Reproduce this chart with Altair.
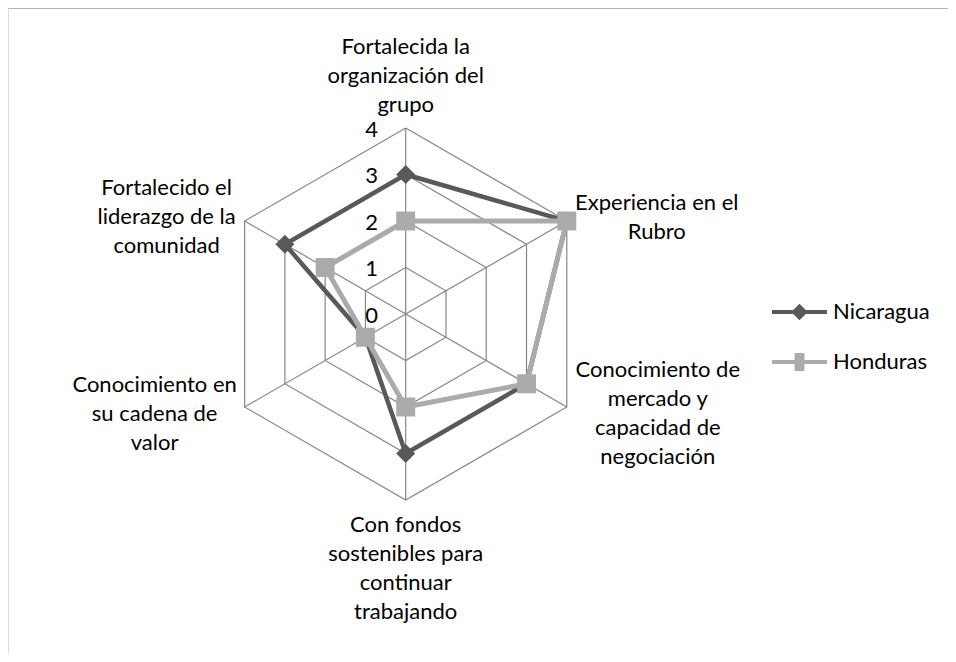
import altair as alt
import numpy as np
import pandas as pd

# ---- data ----
categories = [
    "Fortalecida la organización del grupo",
    "Experiencia en el Rubro",
    "Conocimiento de mercado y capacidad de negociación",
    "Con fondos sostenibles para continuar trabajando",
    "Conocimiento en su cadena de valor",
    "Fortalecido el liderazgo de la comunidad",
]
category_lines = [
    ["Fortalecida la", "organización del", "grupo"],
    ["Experiencia en el", "Rubro"],
    ["Conocimiento de", "mercado y", "capacidad de", "negociación"],
    ["Con fondos", "sostenibles para", "continuar", "trabajando"],
    ["Conocimiento en", "su cadena de", "valor"],
    ["Fortalecido el", "liderazgo de la", "comunidad"],
]
series_names = ["Nicaragua", "Honduras"]
nicaragua = [3, 4, 3, 3, 1, 3]
honduras = [2, 4, 3, 2, 1, 2]
levels = [0, 1, 2, 3, 4]

# ---- styles ----
FONT = "Lato"
FS = 22
GRID = "#868686"
colors = {"Nicaragua": "#595959", "Honduras": "#ababab"}
shapes = {"Nicaragua": "diamond", "Honduras": "square"}
widths = {"Nicaragua": 4.5, "Honduras": 5}

W, H = 940, 646
xs = alt.Scale(domain=[-8.5527, 11.6624], nice=False, zero=False)
ys = alt.Scale(domain=[-7.3118, 6.5806], nice=False, zero=False)

n = len(categories)
angles = [np.deg2rad(90 - 360.0 / n * i) for i in range(n)]
rmax = max(levels)

# series table
rows = []
for name, vals in zip(series_names, [nicaragua, honduras]):
    for k in range(n + 1):
        i = k % n
        rows.append({"series": name, "order": k, "cat": categories[i],
                     "value": vals[i],
                     "x": vals[i] * np.cos(angles[i]),
                     "y": vals[i] * np.sin(angles[i])})
sdf = pd.DataFrame(rows)

# grid table
grows = []
for lv in levels[1:]:
    for k in range(n + 1):
        i = k % n
        grows.append({"level": lv, "order": k,
                      "x": lv * np.cos(angles[i]), "y": lv * np.sin(angles[i])})
gdf = pd.DataFrame(grows)

spokes = pd.DataFrame({"x": [0.0] * n, "y": [0.0] * n,
                       "x2": [rmax * np.cos(a) for a in angles],
                       "y2": [rmax * np.sin(a) for a in angles]})

ticks = pd.DataFrame({"x": [0.0] * len(levels), "y": levels,
                      "t": [str(v) for v in levels]})

def X(f="x"):
    return alt.X(f"{f}:Q", scale=xs, axis=None)

def Y(f="y"):
    return alt.Y(f"{f}:Q", scale=ys, axis=None)

layers = []

grid = alt.Chart(gdf).mark_line(color=GRID, strokeWidth=1.2).encode(
    x=X(), y=Y(), detail="level:N", order="order:Q")
spoke = alt.Chart(spokes).mark_rule(color=GRID, strokeWidth=1.2).encode(
    x=X(), y=Y(), x2="x2:Q", y2="y2:Q")
layers += [grid, spoke]

tick_text = alt.Chart(ticks).mark_text(
    font=FONT, fontSize=FS, color="black", align="center", baseline="middle",
    dx=-34, dy=2).encode(x=X(), y=Y(), text="t:N")
layers.append(tick_text)

for name in series_names:
    d = sdf[sdf.series == name]
    line = alt.Chart(d).mark_line(color=colors[name], strokeWidth=widths[name]).encode(
        x=X(), y=Y(), order="order:Q")
    pts = alt.Chart(d[d.order < n]).mark_point(
        shape=shapes[name], filled=True, size=360, opacity=1,
        color=colors[name]).encode(x=X(), y=Y())
    layers += [line, pts]

# category labels (offset of first line from the axis end)
offsets = [(0, -81), (90, -18), (91, -37), (0, 25), (-90, -22), (-78, -33)]
for i in range(n):
    ldf = pd.DataFrame({"x": [rmax * np.cos(angles[i])],
                        "y": [rmax * np.sin(angles[i])],
                        "label": [category_lines[i]]})
    lab = alt.Chart(ldf).mark_text(
        font=FONT, fontSize=FS, color="black", align="center",
        baseline="middle", lineHeight=29,
        dx=offsets[i][0], dy=offsets[i][1]).encode(x=X(), y=Y(), text="label")
    layers.append(lab)

# legend
leg_y = {"Nicaragua": 304, "Honduras": 354}
leg_shape = {"Nicaragua": "diamond", "Honduras": "M-0.55,-1H0.55V1H-0.55Z"}
leg_size = {"Nicaragua": 270, "Honduras": 324}
for name in series_names:
    ld = pd.DataFrame({"series": [name]})
    layers.append(alt.Chart(ld).mark_rule(color=colors[name], strokeWidth=4).encode(
        x=alt.value(764), x2=alt.value(819), y=alt.value(leg_y[name])))
    layers.append(alt.Chart(ld).mark_point(
        shape=leg_shape[name], filled=True, size=leg_size[name], opacity=1,
        color=colors[name]).encode(x=alt.value(791.5), y=alt.value(leg_y[name])))
    layers.append(alt.Chart(ld).mark_text(
        font=FONT, fontSize=FS, color="black", align="left", baseline="middle").encode(
        x=alt.value(825), y=alt.value(leg_y[name]), text="series:N"))

# frame (top and left edges)
frame = pd.DataFrame({"k": [0]})
layers.append(alt.Chart(frame).mark_rule(color="#8a8a8a", strokeWidth=2).encode(
    x=alt.value(-1), x2=alt.value(948), y=alt.value(-0.5)))
layers.append(alt.Chart(frame).mark_rule(color="#8a8a8a", strokeWidth=2).encode(
    x=alt.value(-1), y=alt.value(-1), y2=alt.value(654)))

chart = alt.layer(*layers).properties(
    width=W, height=H, padding=0, autosize=alt.AutoSizeParams(type="none")
).configure_view(stroke=None).configure(background="white")

chart.save("out.html", embed_options={"renderer": "svg", "actions": False})
